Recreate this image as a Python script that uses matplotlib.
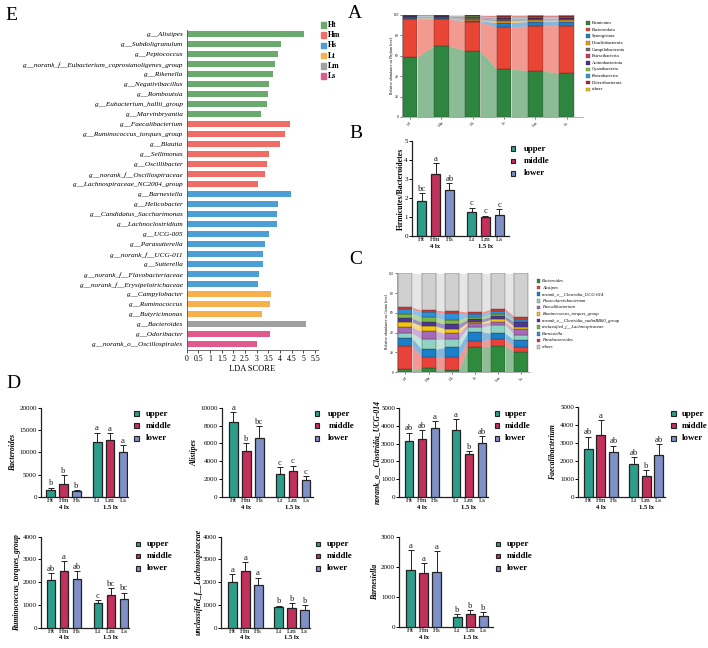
import matplotlib
matplotlib.use('Agg')
import matplotlib.pyplot as plt
from matplotlib.patches import Rectangle
import numpy as np

plt.rcParams['font.family'] = ['Liberation Serif', 'DejaVu Serif']
plt.rcParams['axes.linewidth'] = 0.8

# ------------------------------------------------------------------ DATA
samples = ['Ht', 'Hm', 'Hs', 'Lt', 'Lm', 'Ls']
light_groups = ['4 lx', '1.5 lx']
levels = ['upper', 'middle', 'lower']

# Panel E: LEfSe LDA scores
lda_genera = [
    'g__Alistipes', 'g__Subdoligranulum', 'g__Peptococcus',
    'g__norank_f__Eubacterium_coprostanoligenes_group', 'g__Rikenella',
    'g__Negativibacillus', 'g__Romboutsia', 'g__Eubacterium_hallii_group',
    'g__Marvinbryantia',
    'g__Faecalibacterium', 'g__Ruminococcus_torques_group', 'g__Blautia',
    'g__Sellimonas', 'g__Oscillibacter', 'g__norank_f__Oscillospiraceae',
    'g__Lachnospiraceae_NC2004_group',
    'g__Barnesiella', 'g__Helicobacter', 'g__Candidatus_Saccharimonas',
    'g__Lachnoclostridium', 'g__UCG-005', 'g__Parasutterella',
    'g__norank_f__UCG-011', 'g__Sutterella', 'g__norank_f__Flavobacteriaceae',
    'g__norank_f__Erysipelotrichaceae',
    'g__Campylobacter', 'g__Ruminococcus', 'g__Butyricimonas',
    'g__Bacteroides',
    'g__Odoribacter', 'g__norank_o__Oscillospirales']
lda_scores = [5.03, 4.03, 3.91, 3.80, 3.71, 3.53, 3.50, 3.43, 3.19,
              4.41, 4.23, 4.00, 3.51, 3.46, 3.36, 3.04,
              4.47, 3.93, 3.87, 3.87, 3.54, 3.34, 3.29, 3.26, 3.11, 3.07,
              3.60, 3.57, 3.24,
              5.11,
              3.57, 3.00]
lda_groups = (['Ht'] * 9 + ['Hm'] * 7 + ['Hs'] * 10 + ['Lt'] * 3 +
              ['Lm'] * 1 + ['Ls'] * 2)
lda_ticks = [0, 0.5, 1, 1.5, 2, 2.5, 3, 3.5, 4, 4.5, 5, 5.5]

# Panel A: phylum relative abundance (%)
phyla = ['Firmicutes', 'Bacteroidota', 'Synergistota', 'Desulfobacterota',
         'Campilobacterota', 'Patescibacteria', 'Actinobacteriota',
         'Cyanobacteria', 'Proteobacteria', 'Deferribacterota', 'others']
firmicutes = [59.2, 69.7, 65.1, 47.2, 45.3, 43.0]
bacteroidota = [36.9, 26.4, 28.4, 40.8, 44.3, 46.6]
synergistota = [0.5, 0.6, 1.0, 4.5, 4.0, 4.0]
desulfobacterota = [0.4, 0.5, 0.6, 1.5, 1.3, 1.2]
campilobacterota = [0.6, 0.5, 2.0, 1.5, 1.0, 1.0]
patescibacteria = [0.4, 0.4, 0.5, 0.5, 0.5, 0.5]
actinobacteriota = [0.8, 0.8, 0.8, 0.8, 0.7, 0.8]
cyanobacteria = [0.2, 0.2, 0.3, 0.3, 0.3, 0.3]
proteobacteria = [0.4, 0.3, 0.4, 0.8, 0.6, 0.6]
deferribacterota = [0.4, 0.4, 0.6, 1.5, 1.4, 1.4]
others_phylum = [0.2, 0.2, 0.3, 0.6, 0.6, 0.6]

# Panel C: genus relative abundance (%)
genera = ['Bacteroides', 'Alistipes', 'norank_o__Clostridia_UCG-014',
          'Phascolarctobacterium', 'Faecalibacterium',
          'Ruminococcus_torques_group', 'norank_o__Clostridia_vadinBB60_group',
          'unclassified_f__Lachnospiraceae', 'Barnesiella', 'Parabacteroides',
          'others']
g_bacteroides = [3.0, 3.7, 2.0, 25.6, 26.6, 20.3]
g_alistipes = [23.6, 11.8, 13.5, 6.1, 6.8, 4.7]
g_ucg014 = [7.5, 7.5, 9.5, 9.1, 5.8, 7.4]
g_phascolarcto = [5.1, 10.1, 8.1, 4.5, 8.4, 5.1]
g_faecali = [6.1, 8.4, 6.1, 4.0, 3.4, 5.8]
g_torques = [5.1, 5.1, 4.7, 1.4, 2.4, 2.6]
g_vadin = [4.0, 4.4, 4.7, 3.0, 3.3, 4.8]
g_lachno = [4.7, 4.7, 4.1, 2.3, 1.8, 1.0]
g_barnes = [4.7, 5.1, 6.8, 2.5, 3.6, 2.3]
g_parab = [1.8, 2.0, 2.3, 2.3, 2.0, 2.0]
g_others = [34.4, 37.2, 38.2, 39.2, 35.9, 44.0]

# Panel B: Firmicutes / Bacteroidetes
fb_mean = [1.86, 3.26, 2.44, 1.28, 1.02, 1.10]
fb_sd = [0.40, 0.58, 0.35, 0.22, 0.06, 0.32]
fb_letters = ['bc', 'a', 'ab', 'c', 'c', 'c']

# Panel D: genus abundances
bact_mean = [1500, 2850, 1280, 12300, 12750, 10080]
bact_sd = [580, 2080, 290, 2100, 1500, 1570]
bact_letters = ['b', 'b', 'b', 'a', 'a', 'a']

alis_mean = [8360, 5150, 6640, 2540, 2870, 1900]
alis_sd = [1160, 860, 1310, 780, 640, 450]
alis_letters = ['a', 'b', 'bc', 'c', 'c', 'c']

ucg_mean = [3125, 3240, 3870, 3770, 2400, 3030]
ucg_sd = [480, 500, 390, 580, 170, 370]
ucg_letters = ['ab', 'ab', 'a', 'a', 'b', 'ab']

faec_mean = [2670, 3430, 2520, 1815, 1170, 2330]
faec_sd = [680, 850, 330, 390, 330, 610]
faec_letters = ['ab', 'a', 'ab', 'ab', 'b', 'ab']

torq_mean = [2110, 2505, 2125, 1085, 1420, 1275]
torq_sd = [280, 410, 350, 120, 310, 265]
torq_letters = ['ab', 'a', 'ab', 'c', 'bc', 'bc']

lach_mean = [2000, 2480, 1880, 910, 880, 780]
lach_sd = [350, 395, 320, 60, 190, 205]
lach_letters = ['a', 'a', 'a', 'b', 'b', 'b']

barn_mean = [1890, 1790, 1830, 340, 430, 385]
barn_sd = [670, 330, 690, 90, 145, 120]
barn_letters = ['a', 'a', 'a', 'b', 'b', 'b']

# ------------------------------------------------------------------ STYLE
W, H = 708, 648
fig = plt.figure(figsize=(W / 100, H / 100), dpi=100)
fig.patch.set_facecolor('white')

group_colors = {'Ht': '#6aaa6e', 'Hm': '#ee6e67', 'Hs': '#4b9fd5',
                'Lt': '#f7b04c', 'Lm': '#a0a0a0', 'Ls': '#e05b8c'}
level_colors = ['#2e9e8c', '#c2305c', '#7f90c6', '#2e9e8c', '#c2305c', '#7f90c6']
phylum_colors = ['#2e8540', '#e84535', '#1f7fc8', '#f39c12', '#6d6d6d',
                 '#d6336c', '#4b2d83', '#8cc63f', '#3399dd', '#b5261e', '#f5c518']
genus_colors = ['#2e8b3e', '#e8423a', '#1a7fc9', '#8fd3c3', '#a66bb8',
                '#f2c512', '#4a3894', '#78b943', '#2f8fd8', '#e53a2f', '#d0d0d0']
bar_pos = np.array([0, 1, 2, 3.6, 4.6, 5.6])


def add_ax(x0, y0, x1, y1):
    return fig.add_axes([x0 / W, 1 - y1 / H, (x1 - x0) / W, (y1 - y0) / H])


ov = fig.add_axes([0, 0, 1, 1], zorder=20)
ov.set_xlim(0, W)
ov.set_ylim(H, 0)
ov.axis('off')

# panel letters
for lab, (x, y) in {'E': (11, 15), 'A': (355, 14), 'B': (356, 133),
                    'C': (356, 259), 'D': (13, 383)}.items():
    ov.text(x, y, lab, fontsize=14, ha='center', va='center')

# ------------------------------------------------------------------ PANEL E
axE = add_ax(186.7, 30.3, 318.5, 349.8)
ypos = np.arange(len(lda_genera))
axE.barh(ypos, lda_scores, height=0.58,
         color=[group_colors[g] for g in lda_groups], edgecolor='none')
axE.set_ylim(len(lda_genera) - 0.45, -0.4)
axE.set_xlim(0, 5.65)
axE.set_yticks(ypos)
axE.set_yticklabels(lda_genera, fontsize=5.2, style='italic')
axE.tick_params(axis='y', length=0, pad=3)
axE.set_xticks(lda_ticks)
axE.set_xticklabels([('%g' % t) for t in lda_ticks], fontsize=5.6)
axE.tick_params(axis='x', length=2, width=0.5, pad=1.5)
for s in ['top', 'right']:
    axE.spines[s].set_visible(False)
for s in ['left', 'bottom']:
    axE.spines[s].set_linewidth(0.6)
    axE.spines[s].set_color('#555555')
axE.set_xlabel('LDA SCORE', fontsize=6, labelpad=2)
for i, g in enumerate(samples):
    y = 25 + 10.2 * i
    ov.add_patch(Rectangle((320.5, y - 2.8), 5.6, 5.6, color=group_colors[g]))
    ov.text(328, y, g, fontsize=5.6, fontweight='bold', va='center', ha='left')


# ------------------------------------------------------------------ stacked helper
def stacked(ax, data_list, colors, width):
    x = np.arange(len(samples))
    bottom = np.zeros(len(samples))
    for vals, col in zip(data_list, colors):
        vals = np.array(vals, dtype=float)
        ax.bar(x, vals, width, bottom=bottom, color=col,
               edgecolor='#3a2a2a', linewidth=0.25, zorder=3)
        for i in range(len(x) - 1):
            ax.fill_between([x[i] + width / 2, x[i + 1] - width / 2],
                            [bottom[i], bottom[i + 1]],
                            [bottom[i] + vals[i], bottom[i + 1] + vals[i + 1]],
                            color=col, alpha=0.55, linewidth=0, zorder=2)
        bottom += vals
    ax.set_ylim(0, 100)
    ax.set_yticks([0, 20, 40, 60, 80, 100])
    ax.tick_params(axis='y', labelsize=2.6, length=1.5, width=0.4, pad=0.8)
    ax.set_xticks(x)
    ax.set_xticklabels(samples, rotation=45, fontsize=3)
    ax.tick_params(axis='x', length=1.5, width=0.4, pad=1)
    for s in ['top', 'right']:
        ax.spines[s].set_visible(False)
    for s in ['left', 'bottom']:
        ax.spines[s].set_linewidth(0.5)
        ax.spines[s].set_color('#999999')


# ------------------------------------------------------------------ PANEL A
axA = add_ax(402, 15, 583, 117)
stacked(axA, [firmicutes, bacteroidota, synergistota, desulfobacterota,
              campilobacterota, patescibacteria, actinobacteriota,
              cyanobacteria, proteobacteria, deferribacterota, others_phylum],
        phylum_colors, 0.47)
axA.set_xlim(-0.255, 5.52)
ov.text(392.3, 66, 'Relative abundance on Phylum level', fontsize=2.8,
        rotation=90, ha='center', va='center')
for i, p in enumerate(phyla):
    y = 23 + 6.63 * i
    ov.add_patch(Rectangle((586, y - 1.8), 3.6, 3.6, facecolor=phylum_colors[i],
                           edgecolor='#333333', linewidth=0.2))
    ov.text(591.5, y, p, fontsize=3.3, va='center', ha='left')

# ------------------------------------------------------------------ PANEL C
axC = add_ax(397, 273.3, 530, 372)
stacked(axC, [g_bacteroides, g_alistipes, g_ucg014, g_phascolarcto, g_faecali,
              g_torques, g_vadin, g_lachno, g_barnes, g_parab, g_others],
        genus_colors, 0.6)
axC.set_xlim(-0.36, 5.37)
ov.text(387.3, 322, 'Relative abundance on Genus level', fontsize=2.8,
        rotation=90, ha='center', va='center')
for i, gname in enumerate(genera):
    y = 281 + 6.6 * i
    ov.add_patch(Rectangle((536.7, y - 1.8), 3.6, 3.6, facecolor=genus_colors[i],
                           edgecolor='#333333', linewidth=0.2))
    ov.text(542, y, gname, fontsize=3.3, va='center', ha='left', style='italic')


# ------------------------------------------------------------------ grouped bar helper
def grouped(left, right, top, bottom, ht_px, ls_px, means, sds, letters,
            ymax, ystep, ylabel, ylab_x, leg_sq_x, leg_tx_x, leg_ys,
            ylabel_style='italic', tick_fmt='%d', lab_fs=5.5):
    ax = add_ax(left, top, right, bottom)
    u = (bar_pos[-1] - bar_pos[0]) / (ls_px - ht_px)
    ax.set_xlim(bar_pos[0] - (ht_px - left) * u, bar_pos[-1] + (right - ls_px) * u)
    ax.set_ylim(0, ymax)
    bw = 8.8 * u
    ax.bar(bar_pos, means, width=bw, color=level_colors, edgecolor='#222222',
           linewidth=0.9, zorder=3)
    ax.errorbar(bar_pos, means, yerr=[np.zeros(len(means)), sds], fmt='none',
                ecolor='#222222', elinewidth=0.7, capsize=2.2, capthick=0.7,
                zorder=2)
    for i in range(len(means)):
        ax.annotate(letters[i], xy=(bar_pos[i], means[i] + sds[i]),
                    xytext=(0, 0.3), textcoords='offset points',
                    ha='center', va='bottom', fontsize=6.2, color='#222222')
    ticks = np.arange(0, ymax + ystep / 2, ystep)
    ax.set_yticks(ticks)
    ax.set_yticklabels([tick_fmt % t for t in ticks], fontsize=5)
    ax.tick_params(axis='y', length=2, width=0.7, pad=1)
    ax.set_xticks(bar_pos)
    ax.set_xticklabels(samples, fontsize=5.1)
    ax.tick_params(axis='x', length=0, pad=0.8)
    for s in ['top', 'right']:
        ax.spines[s].set_visible(False)
    for s in ['left', 'bottom']:
        ax.spines[s].set_linewidth(0.9)
        ax.spines[s].set_color('#222222')
    for gname, xc in zip(light_groups, [bar_pos[1], bar_pos[4]]):
        ax.annotate(gname, xy=(xc, 0), xycoords=('data', 'axes fraction'),
                    xytext=(0, -7.3), textcoords='offset points',
                    ha='center', va='center', fontsize=4.8, fontweight='bold')
    ov.text(ylab_x, (top + bottom) / 2, ylabel, rotation=90, fontsize=lab_fs,
            fontweight='bold', style=ylabel_style, ha='center', va='center')
    for i, lv in enumerate(levels):
        y = leg_ys[i]
        ov.add_patch(Rectangle((leg_sq_x, y - 2.3), 4.6, 4.6,
                               facecolor=level_colors[i], edgecolor='#222222',
                               linewidth=0.8))
        ov.text(leg_tx_x, y, lv, fontsize=6.3, fontweight='bold',
                va='center', ha='left')
    return ax


# ------------------------------------------------------------------ PANEL B
grouped(412, 509, 141, 236.3, 421.7, 499.3, fb_mean, fb_sd, fb_letters,
        5, 1, 'Firmicutes/Bacteroidetes', 401, 510.5, 524, [148.7, 161, 173.3],
        ylabel_style='normal', lab_fs=5.6)

# ------------------------------------------------------------------ PANEL D
legy1 = [413.7, 425.7, 438.5]
legy2 = [544, 556, 568.3]
grouped(41, 128.3, 407.7, 497, 50.7, 123, bact_mean, bact_sd, bact_letters,
        20000, 5000, 'Bacteroides', 13, 134, 145.7, legy1)
grouped(221.7, 313, 407.7, 497, 233.3, 306, alis_mean, alis_sd, alis_letters,
        10000, 2000, 'Alistipes', 194, 314.5, 328.3, legy1)
grouped(399.3, 488.3, 407.7, 497.3, 409, 482, ucg_mean, ucg_sd, ucg_letters,
        5000, 1000, 'norank_o__Clostridia_UCG-014', 376.7, 494.5, 505, legy1)
grouped(578.3, 665, 407, 497, 588.3, 658.7, faec_mean, faec_sd, faec_letters,
        5000, 1000, 'Faecalibacterium', 553, 671, 681.7, legy1)
grouped(41, 129.3, 536.7, 627.7, 51, 124, torq_mean, torq_sd, torq_letters,
        4000, 1000, 'Ruminococcus_torques_group', 16.7, 135.5, 146.7, legy2)
grouped(221, 310, 536.7, 627.7, 232.3, 304.7, lach_mean, lach_sd, lach_letters,
        4000, 1000, 'unclassified_f__Lachnospiraceae', 199, 315.5, 326.7, legy2)
grouped(399.3, 493.3, 536.7, 627.3, 410.7, 483.3, barn_mean, barn_sd, barn_letters,
        3000, 1000, 'Barnesiella', 375, 495.5, 506.7, legy2)

fig.savefig('out.png', dpi=100, facecolor='white')
